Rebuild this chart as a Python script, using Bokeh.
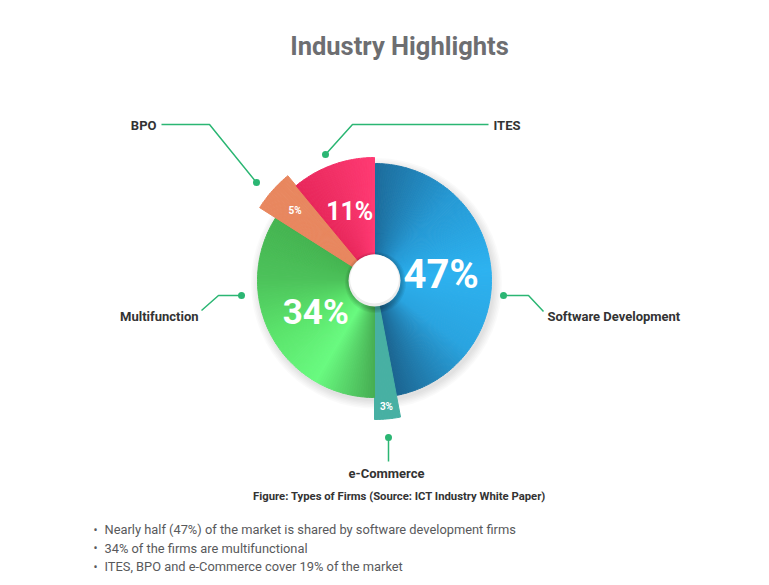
import numpy as np
from bokeh.plotting import figure
from bokeh.models import Range1d
from bokeh.embed import file_html
from bokeh.resources import INLINE
from bokeh.core.properties import value

# ---------------- data ----------------
categories = ["Software Development", "e-Commerce", "Multifunction", "BPO", "ITES"]
shares = [47, 3, 34, 5, 11]
pct_labels = ["47%", "3%", "34%", "5%", "11%"]
title_text = "Industry Highlights"
caption_text = "Figure: Types of Firms (Source: ICT Industry White Paper)"
bullet_texts = [
    "Nearly half (47%) of the market is shared by software development firms",
    "34% of the firms are multifunctional",
    "ITES, BPO and e-Commerce cover 19% of the market",
]

# ---------------- style ----------------
W, H = 769, 585
CX, CY = 374, H - 280
radii = [117, 139, 117, 136, 123]
label_r = [67, 127, 67, 106, 73]
label_sizes = ["40px", "10px", "35px", "10px", "25px"]
grad_stops = [
    ["#1d6c9b", "#2699d4", "#2db2f0", "#29a4e0", "#1b6591"],
    ["#47b0a3", "#47b0a3"],
    ["#46ad52", "#69fb80", "#5be56c", "#4cc25a", "#45b451"],
    ["#e8875f", "#e8875f"],
    ["#e8275b", "#f23167", "#ff3a73"],
]
GREEN = "#2bb673"
PCT_FONT = "Roboto"


def hex2rgb(h):
    h = h.lstrip("#")
    return np.array([int(h[i:i + 2], 16) for i in (0, 2, 4)], dtype=float)


def interp(stops, t):
    pos = t * (len(stops) - 1)
    i = min(int(pos), len(stops) - 2)
    f = pos - i
    c = hex2rgb(stops[i]) * (1 - f) + hex2rgb(stops[i + 1]) * f
    return "#%02x%02x%02x" % tuple(int(round(v)) for v in c)


p = figure(width=W, height=H, x_range=Range1d(0, W), y_range=Range1d(0, H),
           output_backend="svg", toolbar_location=None, min_border=0,
           x_axis_type=None, y_axis_type=None)
p.grid.visible = False
p.outline_line_color = None
p.background_fill_color = "white"
p.border_fill_color = "white"

# soft shadow behind pie
for k in range(6):
    p.circle(x=[CX + 2], y=[CY - 3], radius=118 + k * 1.5, fill_color="#000000",
             fill_alpha=0.018, line_color=None)

# slices (clockwise from top), drawn as thin sub-wedges to mimic gradients
total = float(sum(shares))
cum = 0.0
mid_angles = []
for i, s in enumerate(shares):
    a0 = np.pi / 2 - 2 * np.pi * (cum + s) / total  # end (clockwise)
    a1 = np.pi / 2 - 2 * np.pi * cum / total        # start
    mid_angles.append((a0 + a1) / 2)
    N = max(4, int(s * 3))
    edges = np.linspace(a1, a0, N + 1)
    starts, ends, cols = [], [], []
    for j in range(N):
        starts.append(edges[j + 1])
        ends.append(edges[j])
        cols.append(interp(grad_stops[i], (j + 0.5) / N))
    p.wedge(x=[CX] * N, y=[CY] * N, radius=radii[i], start_angle=starts,
            end_angle=ends, fill_color=cols, line_color=cols, line_width=1)
    cum += s

# center hole with shadow
for k in range(4):
    p.circle(x=[CX + 1], y=[CY - 2], radius=27 + k * 1.2, fill_color="#000000",
             fill_alpha=0.06, line_color=None)
p.circle(x=[CX], y=[CY], radius=26, fill_color="#ececec", line_color=None)
p.circle(x=[CX], y=[CY + 1.5], radius=24.5, fill_color="#ffffff", line_color=None)

# percentage labels
for i, lab in enumerate(pct_labels):
    lx = CX + label_r[i] * np.cos(mid_angles[i])
    ly = CY + label_r[i] * np.sin(mid_angles[i])
    p.text(x=[lx], y=[ly], text=[lab], text_color="white",
           text_font=value(PCT_FONT), text_font_style="bold",
           text_font_size=value(label_sizes[i]), text_align="center",
           text_baseline="middle")

# leader lines (image coordinates, y measured from top)
leaders = {
    "BPO": ([161, 209, 256], [124, 124, 182]),
    "ITES": ([488, 352, 325], [124, 124, 154]),
    "Multifunction": ([201, 218, 241], [310, 295, 295]),
    "Software Development": ([543, 528, 503], [311, 295, 295]),
    "e-Commerce": ([388, 388], [461, 437]),
}
for name, (xs, ys) in leaders.items():
    yy = [H - v for v in ys]
    p.line(x=xs, y=yy, line_color=GREEN, line_width=1.5)
    p.scatter(x=[xs[-1]], y=[yy[-1]], size=7, fill_color=GREEN, line_color=None)

# category labels
lab_pos = {
    "BPO": (156, 125, "right"),
    "ITES": (493, 125, "left"),
    "Multifunction": (198, 316, "right"),
    "Software Development": (547, 316, "left"),
    "e-Commerce": (386, 473, "center"),
}
for name in categories:
    x, y, al = lab_pos[name]
    p.text(x=[x], y=[H - y], text=[name], text_color="#333333",
           text_font=value("Roboto"), text_font_style="bold",
           text_font_size=value("13px"), text_align=al, text_baseline="middle")

# title
p.text(x=[399], y=[H - 45], text=[title_text], text_color="#6d6e71",
       text_font=value("Roboto"), text_font_style="bold",
       text_font_size=value("25.5px"), text_align="center", text_baseline="middle")

# caption
p.text(x=[399], y=[H - 496], text=[caption_text], text_color="#333333",
       text_font=value("Roboto"), text_font_style="bold",
       text_font_size=value("11.3px"), text_align="center", text_baseline="middle")

# bullets
for k, t in enumerate(bullet_texts):
    y = H - (529 + k * 18.5)
    p.text(x=[95], y=[y], text=["•"], text_color="#58595b",
           text_font=value("Roboto"), text_font_size=value("12px"),
           text_align="center", text_baseline="middle")
    p.text(x=[104], y=[y], text=[t], text_color="#58595b",
           text_font=value("Roboto"), text_font_size=value("12.85px"),
           text_align="left", text_baseline="middle")

open("out.html", "w").write(file_html(p, INLINE))
